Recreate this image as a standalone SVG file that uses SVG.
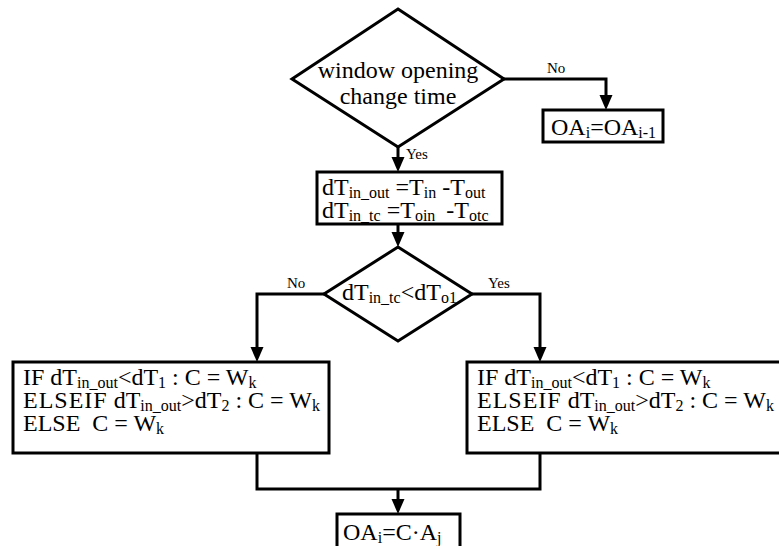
<svg xmlns="http://www.w3.org/2000/svg" width="779" height="546" viewBox="0 0 779 546">
<style>
.sh{fill:#fff;stroke:#000;stroke-width:3}
.ln{fill:none;stroke:#000;stroke-width:3}
.t{font-family:"Liberation Serif","Times New Roman",serif;font-size:24px;fill:#000}
.s{font-size:16px}
.ls{letter-spacing:1px}
.lb{font-family:"Liberation Serif","Times New Roman",serif;font-size:15px;fill:#000}
</style>
<defs>
<marker id="ah" markerUnits="userSpaceOnUse" markerWidth="16" markerHeight="14" refX="4" refY="6.5" orient="auto">
<path d="M0,0 L15,6.5 L0,13 z" fill="#000"/>
</marker>
</defs>
<rect width="779" height="546" fill="#fff"/>
<g id="connectors">
<path class="ln" d="M398,147 V161" marker-end="url(#ah)"/>
<path class="ln" d="M504,79 H606 V99" marker-end="url(#ah)"/>
<path class="ln" d="M398,224 V236" marker-end="url(#ah)"/>
<path class="ln" d="M324,294 H257 V351" marker-end="url(#ah)"/>
<path class="ln" d="M472,294 H540 V351" marker-end="url(#ah)"/>
<path class="ln" d="M257,453 V489 H540 V453"/>
<path class="ln" d="M398,489 V503" marker-end="url(#ah)"/>
<text class="lb" x="406" y="159">Yes</text>
<text class="lb" x="547" y="73">No</text>
<text class="lb" x="287" y="288">No</text>
<text class="lb" x="488" y="288">Yes</text>
</g>
<g id="d1">
<polygon class="sh" points="398,9 504,79 398,147 292,79"/>
<text class="t" x="398" y="78" text-anchor="middle">window opening</text>
<text class="t" x="398" y="104" text-anchor="middle">change time</text>
</g>
<g id="oa1">
<rect class="sh" x="543" y="110" width="120" height="32"/>
<text class="t" x="551" y="135">OA<tspan class="s" dy="3">i</tspan><tspan dy="-3">=OA</tspan><tspan class="s" dy="3">i-1</tspan></text>
</g>
<g id="calc">
<rect class="sh" x="317" y="172" width="185" height="52"/>
<text class="t" x="322" y="195">dT<tspan class="s" dy="3">in_out</tspan><tspan dy="-3"> =T</tspan><tspan class="s" dy="3">in</tspan><tspan dy="-3"> -T</tspan><tspan class="s" dy="3">out</tspan></text>
<text class="t" x="322" y="218">dT<tspan class="s" dy="3">in_tc</tspan><tspan dy="-3"> =T</tspan><tspan class="s" dy="3">oin</tspan><tspan dy="-3" dx="5"> -T</tspan><tspan class="s" dy="3">otc</tspan></text>
</g>
<g id="d2">
<polygon class="sh" points="398,247 472,294 398,341 324,294"/>
<text class="t" x="342" y="300">dT<tspan class="s" dy="3">in_tc</tspan><tspan dy="-3">&lt;dT</tspan><tspan class="s" dy="3">o1</tspan></text>
</g>
<g id="left">
<rect class="sh" x="13" y="362" width="316" height="91"/>
<text class="t" x="23" y="385">IF dT<tspan class="s" dy="3">in_out</tspan><tspan dy="-3">&lt;dT</tspan><tspan class="s" dy="3">1</tspan><tspan dy="-3"> : C = W</tspan><tspan class="s" dy="3">k</tspan></text>
<text class="t" x="23" y="408"><tspan class="ls">ELSEIF</tspan> dT<tspan class="s" dy="3">in_out</tspan><tspan dy="-3">&gt;dT</tspan><tspan class="s" dy="3">2</tspan><tspan dy="-3"> : C = W</tspan><tspan class="s" dy="3">k</tspan></text>
<text class="t" x="23" y="431">ELSE<tspan dx="12">C = W</tspan><tspan class="s" dy="3">k</tspan></text>
</g>
<g id="right">
<rect class="sh" x="467" y="362" width="316" height="91"/>
<text class="t" x="477" y="385">IF dT<tspan class="s" dy="3">in_out</tspan><tspan dy="-3">&lt;dT</tspan><tspan class="s" dy="3">1</tspan><tspan dy="-3"> : C = W</tspan><tspan class="s" dy="3">k</tspan></text>
<text class="t" x="477" y="408"><tspan class="ls">ELSEIF</tspan> dT<tspan class="s" dy="3">in_out</tspan><tspan dy="-3">&gt;dT</tspan><tspan class="s" dy="3">2</tspan><tspan dy="-3"> : C = W</tspan><tspan class="s" dy="3">k</tspan></text>
<text class="t" x="477" y="431">ELSE<tspan dx="12">C = W</tspan><tspan class="s" dy="3">k</tspan></text>
</g>
<g id="oa2">
<rect class="sh" x="337" y="514" width="123" height="40"/>
<text class="t" x="343" y="540">OA<tspan class="s" dy="3">i</tspan><tspan dy="-3">=C·A</tspan><tspan class="s" dy="3">j</tspan></text>
</g>
</svg>
